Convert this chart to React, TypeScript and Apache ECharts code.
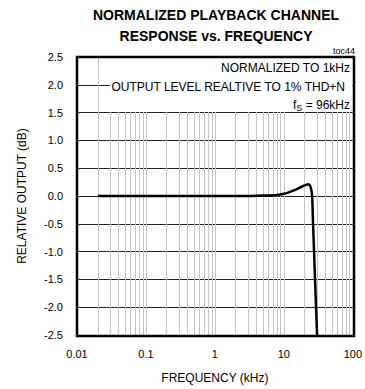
import React, { useEffect, useRef } from "react";
import * as echarts from "echarts";

const freqKHz = [0.02, 0.1, 1, 3, 5.5, 8, 10, 12, 14, 16.5, 19, 21, 22.5, 23.8, 24.9, 25.7, 26.5, 27.4, 28.3, 29.3, 30.3];
const relOutputDb = [0, 0, 0, 0, 0.01, 0.02, 0.04, 0.07, 0.1, 0.14, 0.18, 0.2, 0.21, 0.19, 0.12, 0, -0.5, -1.0, -1.5, -2.0, -2.5];
const xTickLabels = ["0.01", "0.1", "1", "10", "100"];
const gridDecades = [0.01, 0.1, 1, 10];
const gridMultipliers = [1, 2, 3, 4, 5, 6, 7, 8, 9];

const FONT = "'Liberation Sans', Arial, sans-serif";

export default function App() {
  const ref = useRef<HTMLDivElement>(null);
  useEffect(() => {
    const chart = echarts.init(ref.current!, null, { renderer: "svg" });
    const gridFreqs: number[] = [];
    gridDecades.forEach((d) => gridMultipliers.forEach((m) => gridFreqs.push(+(d * m).toPrecision(3))));
    gridFreqs.push(100);
    const L = 77, T = 57, W = 277, H = 279;
    chart.setOption({
      animation: false,
      textStyle: { fontFamily: FONT },
      grid: { left: L, top: T, width: W, height: H, show: false },
      xAxis: {
        type: "log",
        logBase: 10,
        min: 0.01,
        max: 100,
        name: "FREQUENCY (kHz)",
        nameLocation: "middle",
        nameGap: 37,
        nameTextStyle: { fontSize: 12, color: "#000", fontFamily: FONT },
        axisLine: { show: false },
        axisTick: { show: false },
        splitLine: { show: false },
        axisLabel: {
          fontSize: 11,
          color: "#000",
          margin: 13,
          fontFamily: FONT,
          formatter: (v: number) => {
            const i = Math.round(Math.log10(v)) + 2;
            return xTickLabels[i] ?? "";
          },
        },
      },
      yAxis: {
        type: "value",
        min: -2.5,
        max: 2.5,
        interval: 0.5,
        name: "RELATIVE OUTPUT (dB)",
        nameLocation: "middle",
        nameGap: 49,
        nameTextStyle: { fontSize: 12, color: "#000", fontFamily: FONT },
        axisLine: { show: false },
        axisTick: { show: false },
        splitLine: { show: true, lineStyle: { color: "#222", width: 1 } },
        axisLabel: {
          fontSize: 11,
          color: "#000",
          margin: 14,
          fontFamily: FONT,
          formatter: (v: number) => v.toFixed(1),
        },
      },
      series: [
        {
          type: "line",
          data: [],
          z: 1,
          silent: true,
          markLine: {
            z: 1,
            silent: true,
            symbol: ["none", "none"],
            label: { show: false },
            lineStyle: { color: "#c4c4c4", type: "solid", width: 1 },
            data: gridFreqs.map((f) => ({ xAxis: f })),
          },
        },
        {
          type: "line",
          data: freqKHz.map((f, i) => [f, relOutputDb[i]]),
          showSymbol: false,
          smooth: 0.3,
          z: 10,
          lineStyle: { color: "#000", width: 2.5 },
        },
      ],
      graphic: [
        {
          type: "rect",
          z: 50,
          shape: { x: 110, y: 58, width: 242, height: 54 },
          style: { fill: "#fff" },
        },
        {
          type: "text",
          z: 60,
          x: 350,
          y: 68,
          style: { text: "NORMALIZED TO 1kHz", font: `12px ${FONT}`, fill: "#000", align: "right", verticalAlign: "middle" },
        },
        {
          type: "text",
          z: 60,
          x: 345,
          y: 87,
          style: { text: "OUTPUT LEVEL REALTIVE TO 1% THD+N", font: `12px ${FONT}`, fill: "#000", align: "right", verticalAlign: "middle" },
        },
        {
          type: "text",
          z: 60,
          x: 350,
          y: 105,
          style: {
            text: "{a|f}{b|S}{a| = 96kHz}",
            align: "right",
            verticalAlign: "middle",
            fill: "#000",
            rich: {
              a: { fontSize: 12, fontFamily: FONT, fill: "#000" },
              b: { fontSize: 9, fontFamily: FONT, fill: "#000", padding: [6, 0, 0, 0] },
            },
          },
        },
        {
          type: "text",
          z: 60,
          x: 355,
          y: 51,
          style: { text: "toc44", font: `9px ${FONT}`, fill: "#000", align: "right", verticalAlign: "middle" },
        },
        {
          type: "text",
          z: 60,
          x: 216,
          y: 15,
          style: { text: "NORMALIZED PLAYBACK CHANNEL", font: `bold 14px ${FONT}`, fill: "#000", align: "center", verticalAlign: "middle" },
        },
        {
          type: "text",
          z: 60,
          x: 216,
          y: 36,
          style: { text: "RESPONSE vs. FREQUENCY", font: `bold 14px ${FONT}`, fill: "#000", align: "center", verticalAlign: "middle" },
        },
        {
          type: "rect",
          z: 100,
          shape: { x: L, y: T, width: W, height: H },
          style: { fill: "none", stroke: "#000", lineWidth: 2.5 },
        },
      ],
    });
    return () => chart.dispose();
  }, []);
  return <div ref={ref} style={{ position: "absolute", left: 0, top: 0, width: 365, height: 389 }} />;
}
